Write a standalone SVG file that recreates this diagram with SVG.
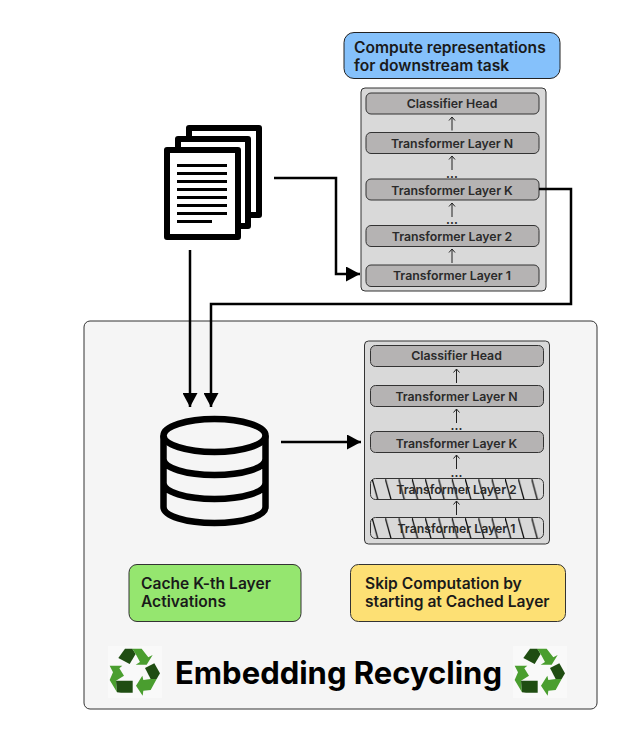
<svg xmlns="http://www.w3.org/2000/svg" width="621" height="729" viewBox="0 0 621 729">
<style>
text{font-family:"Inter","Liberation Sans",sans-serif;fill:#1a1a1a}
.lbl{font-size:15.6px;font-weight:600}
.lay{font-size:12.3px;font-weight:600;text-anchor:middle;fill:#2a2a2a}
.dots{font-size:12.3px;font-weight:600;text-anchor:middle;fill:#2a2a2a}
.stack{fill:#d9d9d9;stroke:#333;stroke-width:1}
.layer{fill:#b5b3b3;stroke:#333;stroke-width:1}
.hatch{fill:url(#hatch);stroke:#333;stroke-width:1}
.thick{fill:none;stroke:#000;stroke-width:2.5}
.thin{fill:none;stroke:#222;stroke-width:1}
.page{fill:#fff;stroke:#000;stroke-width:6;stroke-linejoin:round}
.txt{stroke:#000;stroke-width:2.8}
.db{fill:none;stroke:#000;stroke-width:6.5}
.lt{fill:#4a9e2f}.dk{fill:#1f4d12}
</style>
<defs>
<marker id="ah" markerUnits="userSpaceOnUse" markerWidth="15" markerHeight="15" refX="14" refY="7.5" orient="auto"><path d="M0 0L14 7.5L0 15Z" fill="#000"/></marker>
<pattern id="hatch" patternUnits="userSpaceOnUse" width="13.3" height="22"><path d="M0 0L6 22" stroke="#000" stroke-width="1.200" fill="none"/></pattern>
<symbol id="rec" viewBox="0 0 54 52" overflow="visible">
<rect width="54" height="52" fill="#f9f9f9"/>
<g transform="translate(-3 -2) scale(.3333)">
<path class="dk" d="M60 14L82 14L92 30L74 60L40 42Z"/>
<path class="lt" d="M82 14L110 14L130 40L143 33L125 62L92 62L105 54L92 30Z"/>
<path class="dk" d="M120 72L148 58L165 88L155 105L137 105Z"/>
<path class="lt" d="M155 105L137 138L115 140L113 155L93 125L112 95L115 108L137 105Z"/>
<path class="lt" d="M14 65L52 65L43 73L57 95L33 110L36 145L14 108L24 85Z"/>
<path class="dk" d="M33 110L83 110L83 146L48 146L36 145Z"/>
</g>
</symbol>
</defs>
<rect width="621" height="729" fill="#fff"/>
<g id="recycling-panel">
<rect x="84" y="321" width="513" height="388" rx="6" fill="#f5f5f5" stroke="#333" stroke-width="1"/>
<text x="175" y="684" font-size="31" font-weight="700" style="fill:#000">Embedding Recycling</text>
<use href="#rec" x="108" y="646" width="54" height="52"/>
<use href="#rec" x="513" y="646" width="54" height="52"/>
</g>
<g id="task-label">
<rect x="344" y="32.500" width="216" height="46" rx="10" fill="#85c1fb" stroke="#222"/>
<text class="lbl" x="354" y="52.500">Compute representations</text>
<text class="lbl" x="354" y="71">for downstream task</text>
</g>
<g id="top-stack">
<rect class="stack" x="361" y="88" width="185" height="203" rx="4"/>
<rect class="layer" x="366" y="93" width="173" height="21" rx="5"/>
<text class="lay" x="452" y="107.500">Classifier Head</text>
<rect class="layer" x="366" y="132.500" width="173" height="21" rx="5"/>
<text class="lay" x="452" y="147.500">Transformer Layer N</text>
<rect class="layer" x="366" y="179" width="173" height="21" rx="5"/>
<text class="lay" x="452" y="194.500">Transformer Layer K</text>
<rect class="layer" x="366" y="225.500" width="173" height="21" rx="5"/>
<text class="lay" x="452" y="241">Transformer Layer 2</text>
<rect class="layer" x="366" y="265" width="173" height="21.500" rx="5"/>
<text class="lay" x="452" y="280">Transformer Layer 1</text>
<text class="dots" x="452" y="178">...</text>
<text class="dots" x="452" y="224">...</text>
<path class="thin" d="M452 130.500V117M449 120.500L452 117L455 120.500M452 170V156M449 159.500L452 156L455 159.500M452 217V203M449 206.500L452 203L455 206.500M452 263V249M449 252.500L452 249L455 252.500"/>
</g>
<g id="documents">
<rect class="page" x="189" y="128" width="70" height="87"/>
<rect class="page" x="178" y="139" width="70" height="87"/>
<rect class="page" x="167" y="150" width="71" height="87"/>
<path class="txt" d="M177 165.500H227M177 173.500H227M177 181.500H227M177 189.500H227M177 197.500H227M177 205.500H227M177 213.500H227M177 221.500H212"/>
</g>
<g id="cache-db">
<ellipse class="db" cx="214.500" cy="435.500" rx="51" ry="16.500"/>
<path class="db" d="M163.500 435.500V507C163.500 516 186 523 214.500 523S265.500 516 265.500 507V435.500M163.500 459C163.500 468 186 475 214.500 475S265.500 468 265.500 459M163.500 483C163.500 492 186 499 214.500 499S265.500 492 265.500 483"/>
</g>
<g id="bottom-stack">
<rect class="stack" x="364.500" y="341" width="185" height="203" rx="4"/>
<rect class="layer" x="370.500" y="345.500" width="173" height="21" rx="5"/>
<text class="lay" x="456.500" y="360">Classifier Head</text>
<rect class="layer" x="370.500" y="385.500" width="173" height="21" rx="5"/>
<text class="lay" x="456.500" y="400.500">Transformer Layer N</text>
<rect class="layer" x="370.500" y="431.500" width="173" height="21" rx="5"/>
<text class="lay" x="456.500" y="447.500">Transformer Layer K</text>
<g transform="translate(372 478.500)"><rect class="hatch" x="-1.500" width="173" height="21" rx="5"/></g>
<text class="lay" x="456.500" y="494">Transformer Layer 2</text>
<g transform="translate(372 517.500)"><rect class="hatch" x="-1.500" width="173" height="21" rx="5"/></g>
<text class="lay" x="456.500" y="533">Transformer Layer 1</text>
<text class="dots" x="456.500" y="430">...</text>
<text class="dots" x="456.500" y="477">...</text>
<path class="thin" d="M456.500 383V369M453.500 372.500L456.500 369L459.500 372.500M456.500 423V409M453.500 412.500L456.500 409L459.500 412.500M456.500 469V455M453.500 458.500L456.500 455L459.500 458.500M456.500 515V501M453.500 504.500L456.500 501L459.500 504.500"/>
</g>
<g id="cache-label">
<rect x="129" y="564.500" width="172" height="57" rx="8" fill="#95e66f" stroke="#333"/>
<text class="lbl" x="141" y="588.500">Cache K-th Layer</text>
<text class="lbl" x="141" y="607">Activations</text>
</g>
<g id="skip-label">
<rect x="350.500" y="564.500" width="215" height="57" rx="8" fill="#fde074" stroke="#333"/>
<text class="lbl" x="365" y="588.500">Skip Computation by</text>
<text class="lbl" x="365" y="607">starting at Cached Layer</text>
</g>
<g id="connectors">
<path class="thick" d="M274 178H336V274H360" marker-end="url(#ah)"/>
<path class="thick" d="M539 189H571V304H211V407" marker-end="url(#ah)"/>
<path class="thick" d="M190 250V407" marker-end="url(#ah)"/>
<path class="thick" d="M281 442H361" marker-end="url(#ah)"/>
</g>
</svg>
